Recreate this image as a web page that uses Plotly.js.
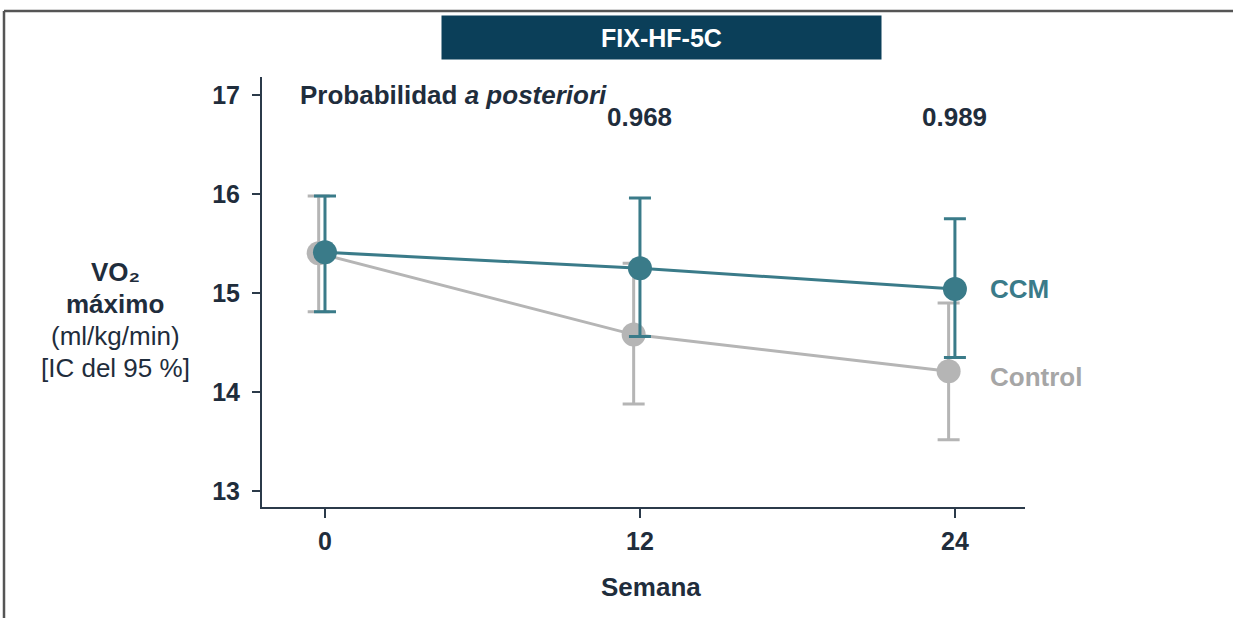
<!DOCTYPE html>
<html>
<head>
<meta charset="utf-8">
<script src="https://cdn.plot.ly/plotly-3.0.1.min.js"></script>
<style>
  html, body { margin: 0; padding: 0; background: #ffffff; }
  #chart { width: 1233px; height: 618px; }
</style>
</head>
<body>
<div id="chart"></div>
<script>
// ---- Data ----
const weeks = [0, 12, 24];
const ccmMean = [15.41, 15.25, 15.04];
const ccmLower = [14.81, 14.56, 14.35];
const ccmUpper = [15.98, 15.96, 15.75];
const controlMean = [15.40, 14.58, 14.21];
const controlLower = [14.81, 13.88, 13.52];
const controlUpper = [15.98, 15.30, 14.90];
const posteriorProb = ["0.968", "0.989"];
const posteriorWeeks = [12, 24];
const xTickVals = [0, 12, 24];
const xTickText = ["0", "12", "24"];
const yTickVals = [13, 14, 15, 16, 17];
const yTitleLines = ["<b>VO₂</b>", "<b>máximo</b>", "(ml/kg/min)", "[IC del 95 %]"];
const xTitle = "<b>Semana</b>";

// ---- Styles ----
const teal = "#3a7b89";
const grey = "#b5b5b5";
const dark = "#1f2d3c";
const controlOffset = -0.24;
const font = "Liberation Sans, Arial, sans-serif";

const ccmTrace = {
  x: weeks,
  y: ccmMean,
  type: "scatter",
  mode: "lines+markers",
  line: { color: teal, width: 3 },
  marker: { color: teal, size: 24 },
  error_y: {
    type: "data", symmetric: false,
    array: ccmUpper.map((u, i) => u - ccmMean[i]),
    arrayminus: ccmMean.map((m, i) => m - ccmLower[i]),
    color: teal, thickness: 3, width: 11
  },
  hoverinfo: "skip",
  showlegend: false
};
const controlTrace = {
  x: weeks.map(w => w + controlOffset),
  y: controlMean,
  type: "scatter",
  mode: "lines+markers",
  line: { color: grey, width: 3 },
  marker: { color: grey, size: 24 },
  error_y: {
    type: "data", symmetric: false,
    array: controlUpper.map((u, i) => u - controlMean[i]),
    arrayminus: controlMean.map((m, i) => m - controlLower[i]),
    color: grey, thickness: 3, width: 11
  },
  hoverinfo: "skip",
  showlegend: false
};

const annotations = [
  {
    xref: "paper", yref: "paper", x: (661.5 - 262) / 763, y: (507 - 37.5) / 430,
    xanchor: "center", yanchor: "middle",
    text: "<b>FIX-HF-5C</b>", showarrow: false,
    width: 437, height: 41, bgcolor: "#0b3f59",
    font: { family: font, size: 25, color: "#ffffff" }
  },
  {
    xref: "paper", yref: "paper", x: (298 - 262) / 763, y: (507 - 95) / 430,
    xanchor: "left", yanchor: "middle",
    text: "<b>Probabilidad <i>a posteriori</i></b>", showarrow: false,
    font: { family: font, size: 26, color: dark }
  },
  {
    xref: "paper", yref: "paper", x: (651 - 262) / 763, y: (507 - 587) / 430,
    xanchor: "center", yanchor: "middle",
    text: xTitle, showarrow: false,
    font: { family: font, size: 26, color: dark }
  },
  {
    xref: "x", yref: "y", x: weeks[2], y: ccmMean[2],
    xanchor: "left", yanchor: "middle", xshift: 33,
    text: "<b>CCM</b>", showarrow: false,
    font: { family: font, size: 26, color: teal }
  },
  {
    xref: "x", yref: "y", x: weeks[2], y: controlMean[2],
    xanchor: "left", yanchor: "middle", xshift: 33, yshift: -6,
    text: "<b>Control</b>", showarrow: false,
    font: { family: font, size: 26, color: "#a6a6a6" }
  }
];
yTitleLines.forEach((t, i) => {
  annotations.push({
    xref: "paper", yref: "paper", x: (115 - 262) / 763, y: (507 - (272 + 32 * i)) / 430,
    xanchor: "center", yanchor: "middle",
    text: t, showarrow: false,
    font: { family: font, size: 26, color: dark }
  });
});
posteriorProb.forEach((p, i) => {
  annotations.push({
    xref: "x", yref: "paper", x: posteriorWeeks[i], y: (507 - 117) / 430,
    xanchor: "center", yanchor: "middle",
    text: "<b>" + p + "</b>", showarrow: false,
    font: { family: font, size: 26, color: dark }
  });
});

const frameColor = "#555555";
const shapes = [
  { type: "line", xref: "paper", yref: "paper",
    x0: (4 - 262) / 763, x1: (1233 - 262) / 763, y0: (507 - 11) / 430, y1: (507 - 11) / 430,
    line: { color: frameColor, width: 2.5 } },
  { type: "line", xref: "paper", yref: "paper",
    x0: (4 - 262) / 763, x1: (4 - 262) / 763, y0: (507 - 11) / 430, y1: (507 - 625) / 430,
    line: { color: frameColor, width: 2.5 } }
];

const layout = {
  width: 1233, height: 618,
  margin: { l: 262, r: 208, t: 77, b: 111 },
  paper_bgcolor: "#ffffff", plot_bgcolor: "#ffffff",
  font: { family: font, color: dark },
  xaxis: {
    range: [-2.4, 26.67],
    tickvals: xTickVals, ticktext: xTickText,
    showgrid: false, zeroline: false,
    showline: true, linecolor: "#2b3a4a", linewidth: 2,
    ticks: "outside", ticklen: 9, tickwidth: 2, tickcolor: "#2b3a4a",
    tickfont: { family: font, size: 25, color: dark, weight: "bold" },
    ticklabelstandoff: 2
  },
  yaxis: {
    range: [12.84, 17.18],
    tickvals: yTickVals,
    showgrid: false, zeroline: false,
    showline: true, linecolor: "#2b3a4a", linewidth: 2,
    ticks: "outside", ticklen: 8, tickwidth: 2, tickcolor: "#2b3a4a",
    tickfont: { family: font, size: 25, color: dark, weight: "bold" },
    ticklabelstandoff: 7
  },
  annotations: annotations,
  shapes: shapes
};

Plotly.newPlot("chart", [controlTrace, ccmTrace], layout, { displayModeBar: false, staticPlot: true });
</script>
</body>
</html>
